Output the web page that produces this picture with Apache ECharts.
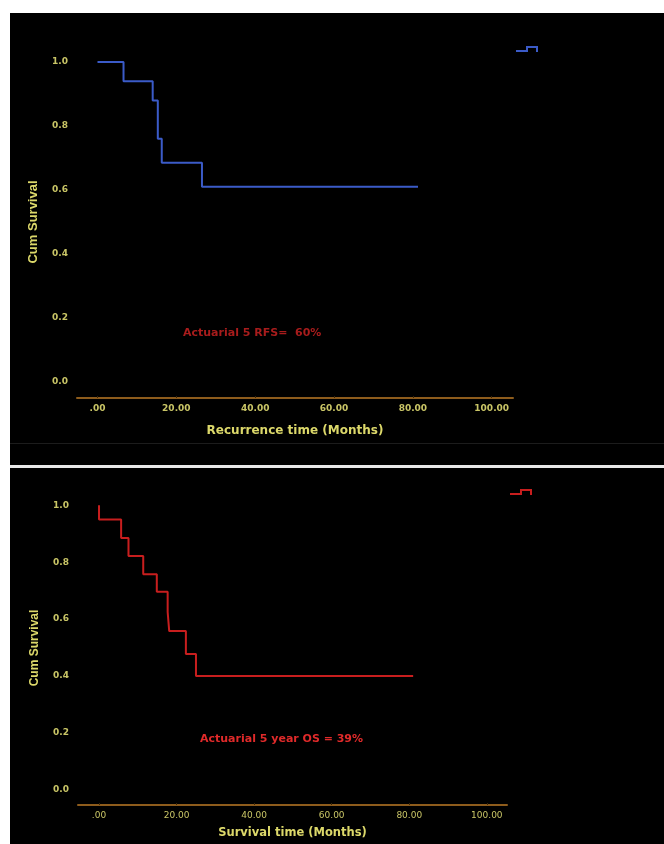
<!DOCTYPE html>
<html>
<head>
<meta charset="utf-8">
<script src="https://cdn.jsdelivr.net/npm/echarts@6/dist/echarts.min.js"></script>
<style>
  html, body { margin: 0; padding: 0; background: #ffffff; }
  #wrap { position: relative; width: 664px; height: 844px; overflow: hidden; }
  .panel { position: absolute; background: #000000; }
  #chart { position: absolute; left: 0; top: 0; width: 664px; height: 844px; }
</style>
</head>
<body>
<div id="wrap">
  <div class="panel" style="left:10px; top:13px; width:654px; height:452px;"></div>
  <div class="panel" style="left:10px; top:443px; width:654px; height:1px; background:#1c1c1c;"></div>
  <div class="panel" style="left:10px; top:465px; width:654px; height:3px; background:#e8e8e8;"></div>
  <div class="panel" style="left:10px; top:468px; width:654px; height:376px;"></div>
  <div id="chart"></div>
</div>
<script>
// ---- Data ----
var xTickValues = [0, 20, 40, 60, 80, 100];
var yTickValues = [0, 0.2, 0.4, 0.6, 0.8, 1.0];

// Recurrence-free survival (Kaplan-Meier step points)
var rfsTime = [0, 6.6, 14.0, 15.3, 16.3, 26.5, 81.3];
var rfsSurv = [1.0, 0.94, 0.88, 0.76, 0.685, 0.61, 0.61];

// Overall survival (Kaplan-Meier step points)
var osTime = [0, 0, 5.7, 7.6, 11.4, 14.9, 17.7, 18.1, 22.4, 25.0, 81.0];
var osSurv = [1.0, 0.95, 0.885, 0.822, 0.758, 0.696, 0.625, 0.558, 0.477, 0.40, 0.40];

var rfsLabel = 'Actuarial 5 RFS=  60%';
var osLabel = 'Actuarial 5 year OS = 39%';

function pairs(t, s) { return t.map(function (v, i) { return [v, s[i]]; }); }
function xFmt(v) { return v === 0 ? '.00' : v.toFixed(2); }

var tickColor = '#c9c566';
var titleColor = '#dcd86a';
var axisBrown = '#8e5c1c';
var stepIcon = 'path://M0,4 L10,4 L10,0 L22,0 L22,6 L20,6 L20,2 L12,2 L12,6 L0,6 Z';

function xAxisCfg(idx, name, bold, nameGap, nameSize, min, max) {
  return {
    type: 'value', gridIndex: idx, min: min, max: max,
    name: name, nameLocation: 'middle', nameGap: nameGap,
    nameTextStyle: { color: titleColor, fontFamily: 'DejaVu Sans', fontWeight: 'bold', fontSize: nameSize },
    axisLine: { show: true, onZero: false, lineStyle: { color: axisBrown, width: 2 } },
    axisTick: { show: true, customValues: xTickValues, length: 2, inside: true, lineStyle: { color: '#3a2608', width: 1 } },
    axisLabel: { customValues: xTickValues, formatter: xFmt, color: tickColor, fontFamily: 'DejaVu Sans',
                 fontWeight: bold ? 'bold' : 'normal', fontSize: 9, margin: 6 },
    splitLine: { show: false }
  };
}
function yAxisCfg(idx, min, nameSize) {
  return {
    type: 'value', gridIndex: idx, min: min, max: 1.05,
    name: 'Cum Survival', nameLocation: 'middle', nameGap: 37, nameRotate: 90,
    nameTextStyle: { color: titleColor, fontFamily: 'Liberation Sans', fontWeight: 'bold', fontSize: nameSize },
    axisLine: { show: false }, axisTick: { show: false },
    axisLabel: { customValues: yTickValues, formatter: function (v) { return v.toFixed(1); },
                 color: tickColor, fontFamily: 'DejaVu Sans', fontWeight: 'bold', fontSize: 9, margin: 9 },
    splitLine: { show: false }
  };
}

var chart = echarts.init(document.getElementById('chart'), null, { renderer: 'canvas' });
chart.setOption({
  animation: false,
  backgroundColor: 'transparent',
  grid: [
    { left: 77, top: 46, width: 436, height: 352 },
    { left: 78, top: 491, width: 429, height: 314 }
  ],
  xAxis: [
    xAxisCfg(0, 'Recurrence time (Months)', true, 27, 12, -5.2, 105.4),
    xAxisCfg(1, 'Survival time (Months)', false, 22, 11.5, -5.42, 105.2)
  ],
  yAxis: [
    yAxisCfg(0, -0.05, 13),
    yAxisCfg(1, -0.053, 12)
  ],
  legend: [
    { left: 516, top: 46, data: [{ name: 'RFS', icon: stepIcon, itemStyle: { color: '#3b5bc8' } }],
      itemWidth: 22, itemHeight: 6, padding: 0, formatter: function () { return ''; }, selectedMode: false },
    { left: 510, top: 489, data: [{ name: 'OS', icon: stepIcon, itemStyle: { color: '#c81e1e' } }],
      itemWidth: 22, itemHeight: 6, padding: 0, formatter: function () { return ''; }, selectedMode: false }
  ],
  title: [
    { text: rfsLabel, left: 183, top: 328, padding: 0,
      textStyle: { color: '#a81c1c', fontFamily: 'DejaVu Sans', fontWeight: 'bold', fontSize: 11 } },
    { text: osLabel, left: 200, top: 734, padding: 0,
      textStyle: { color: '#e02a2a', fontFamily: 'DejaVu Sans', fontWeight: 'bold', fontSize: 11 } }
  ],
  series: [
    { name: 'RFS', type: 'line', step: 'end', xAxisIndex: 0, yAxisIndex: 0, data: pairs(rfsTime, rfsSurv),
      showSymbol: false, symbol: 'none', lineStyle: { color: '#3b5bc8', width: 2 }, itemStyle: { color: '#3b5bc8' } },
    { name: 'OS', type: 'line', step: 'end', xAxisIndex: 1, yAxisIndex: 1, data: pairs(osTime, osSurv),
      showSymbol: false, symbol: 'none', lineStyle: { color: '#c81e1e', width: 2 }, itemStyle: { color: '#c81e1e' } }
  ]
});
</script>
</body>
</html>
